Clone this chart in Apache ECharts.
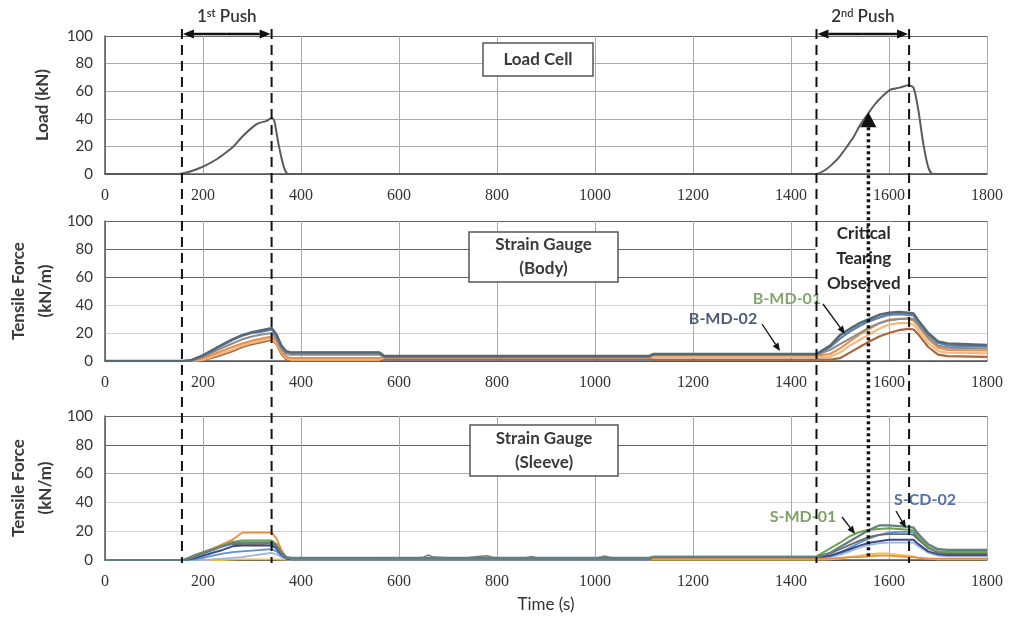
<!DOCTYPE html>
<html>
<head>
<meta charset="utf-8">
<script src="https://cdn.jsdelivr.net/npm/echarts@6/dist/echarts.min.js"></script>
<style>
  html, body { margin: 0; padding: 0; background: #fff; }
  #chart { width: 1012px; height: 618px; }
</style>
</head>
<body>
<div id="chart"></div>
<script>
// ---- data ----
const loadTime  = [0, 150, 160, 180, 200, 228, 245, 262, 280, 303, 315, 330, 340, 345, 350, 355, 360, 365, 370, 375,
                   1452, 1470, 1486, 1500, 1514, 1528, 1541, 1558, 1570, 1582, 1602, 1622, 1639, 1650, 1660, 1670, 1680, 1690, 1800];
const loadValue = [0, 0, 0.5, 2.5, 5.3, 10.7, 15, 19.9, 27, 34.5, 37, 38.5, 40.5, 39, 30, 20, 12, 5, 1, 0,
                   0, 3, 7.7, 13, 19.8, 27, 35.4, 44, 50, 54.7, 61, 62.6, 64.3, 62.6, 46, 22, 5, 0, 0];

// body gauges (kN/m)
const bodyTime = [0, 160, 175, 200, 230, 260, 280, 300, 320, 340, 350, 360, 370, 380, 560, 570, 1110, 1120,
                  1452, 1480, 1500, 1520, 1540, 1560, 1580, 1600, 1620, 1640, 1650, 1660, 1680, 1700, 1720, 1800];
const bodyB1 = [0, 0, 0.5, 4, 10, 15.5, 18.5, 20.5, 22, 23.5, 19, 11, 7, 6, 6, 3.5, 3.5, 5,
                5, 11, 18.5, 23, 27, 30, 33, 34.5, 35, 34.5, 34, 29, 20, 14, 12.5, 11.5];
const bodyB2 = [0, 0, 0.5, 4, 9.5, 15, 18, 20, 21, 22.5, 18, 10, 6.5, 6, 6, 3, 3, 5,
                5, 10, 16, 21, 25, 28.5, 31, 33, 33.5, 33, 32.5, 28, 19, 13, 11, 10.5];
const bodyB3 = [0, 0, 0, 3, 8, 12.5, 15.5, 17.5, 19, 20, 16, 9, 5, 4.5, 4.5, 3, 3, 4.5,
                4.5, 8, 12, 16, 20, 24, 27, 29, 30, 30.5, 30, 26, 17, 11, 9.5, 9];
const bodyB4 = [0, 0, 0, 2, 6, 10, 12.5, 14.5, 16, 17.5, 14, 7, 3, 2, 2, 3.5, 3.5, 4,
                4, 5, 9, 14, 19, 23, 27, 29.5, 30, 30, 29, 25, 16, 9.5, 8, 7.5];
const bodyB5 = [0, 0, 0, 1, 4.5, 8, 11, 13, 14.5, 16, 12.5, 6, 2, 1, 1, 2.5, 2.5, 3,
                3, 3, 6, 11, 15, 19, 23, 26, 27, 27, 26, 22, 13, 7, 6, 5.5];
const bodyB6 = [0, 0, 0, 0.5, 3.5, 7, 10, 12, 13.5, 15, 12, 5, 1, 0.5, 0.5, 1.5, 1.5, 1,
                1, 1, 2, 6, 10, 14, 17.5, 20, 22, 23, 22.5, 19, 10, 4.5, 3.5, 3];

// sleeve gauges (kN/m)
const sleeveTime = [0, 130, 160, 180, 200, 220, 240, 260, 280, 300, 320, 340, 350, 360, 370, 380, 1110, 1120,
                    1452, 1480, 1500, 1520, 1540, 1560, 1580, 1600, 1620, 1640, 1650, 1660, 1680, 1700, 1720, 1800];
const sleeveS1 = [0, 0, 0, 2, 4.5, 7, 9.5, 11.5, 12, 12, 12, 12, 10, 5, 2, 1.5, 1.5, 2,
                  2, 5, 9, 13, 17, 21, 24, 24, 23.5, 23, 22.5, 18, 11, 7.5, 7, 7];
const sleeveS2 = [0, 0, 0, 2.5, 5, 7.5, 10, 12.5, 13.5, 13.5, 13.5, 13.5, 11, 5, 1.5, 1.2, 1.2, 2.5,
                  2.5, 8, 12, 16.5, 19.5, 21, 21.5, 22, 21.5, 21, 20.5, 16, 9, 6, 5.5, 5.5];
const sleeveS3 = [0, 0, 0, 2, 4.5, 8, 11, 14, 19, 19, 19, 19, 15, 7, 2, 1, 1, 1,
                  1, 1, 1.5, 2, 2, 2.5, 3, 3, 2.5, 2, 2, 1.5, 1, 1, 1, 1];
const sleeveS4 = [0, 0, 0, 3, 5.5, 8, 10.5, 11, 11, 11, 11, 11.5, 9, 5, 1.5, 1, 1.5, 2,
                  2, 4.5, 7.5, 10.5, 13.5, 16, 17.5, 18, 18, 18, 17.5, 14, 8.5, 5, 4.5, 4.5];
const sleeveS5 = [0, 0, 0, 1, 3, 5, 7, 9.5, 10, 10, 10, 10, 8, 4, 1, 0.5, 0.5, 1.5,
                  1.5, 3, 5, 7.5, 10, 12, 13, 14, 14, 14, 14, 11, 6, 4, 3.5, 3.5];
const sleeveS6 = [0, 0, 0, 0.5, 1.5, 3, 4.5, 5.5, 6, 6.5, 7, 7.5, 6, 3, 1, 0.5, 0.5, 1.5,
                  1.5, 3, 5.5, 8.5, 12, 15, 17.5, 19, 19.5, 19.5, 19, 15, 8, 5.5, 5, 5];
const sleeveS7 = [0, 0, 0, 0, 0, 0.5, 1, 1.5, 2, 3, 4, 5, 4, 2, 0.5, 0.3, 0.3, 1,
                  1, 2, 3.5, 6, 8.5, 10.5, 11.5, 12, 12, 12, 12, 9.5, 5, 3, 2.5, 2.5];
const sleeveS8 = [0, 0, 0, 0, 0, 0, 0, 0.3, 0.5, 0.5, 0.5, 0.5, 0.5, 0.3, 0.2, 0.2, 0.2, 0.3,
                  0.3, 0.5, 1, 2, 3, 4, 4.5, 4.5, 3.5, 3, 2.5, 1.5, 1, 0.5, 0.5, 0.5];
const noiseTime  = [380, 600, 640, 650, 660, 670, 700, 740, 760, 780, 790, 800, 860, 870, 880, 1000, 1010, 1020, 1030, 1040, 1110];
const noiseValue = [1, 1.5, 1.5, 2, 3.5, 2, 1.5, 1.5, 2.5, 3, 2, 1.5, 1.5, 2.5, 1.5, 1.2, 2, 2.8, 2, 1.3, 1.3];

// events (s)
const pushBounds = [157, 340, 1452, 1641];
const tearTime = 1558;
const tearLoad = 44;

const sans = 'Lato, sans-serif';
const serif = 'Liberation Serif, Times New Roman, serif';

const chart = echarts.init(document.getElementById('chart'));

function zip(t, v) { return t.map((x, i) => [x, v[i]]); }

function xAxisFor(idx, extra) {
    return Object.assign({
        type: 'value', gridIndex: idx, min: 0, max: 1800, interval: 200,
        axisLine: { show: true, lineStyle: { color: '#555', width: 1.5 } },
        axisTick: { show: false },
        axisLabel: { color: '#333', fontFamily: serif, fontSize: 16, margin: 14, formatter: v => String(v) },
        splitLine: { show: true, lineStyle: { color: '#aaa', width: 1 } }
    }, extra || {});
}
function yAxisFor(idx, gridColors) {
    return {
        type: 'value', gridIndex: idx, min: 0, max: 100, interval: 20,
        axisLine: { show: true, lineStyle: { color: '#555', width: 1.5 } },
        axisTick: { show: false },
        axisLabel: { color: '#333', fontFamily: sans, fontSize: 15, margin: 12 },
        splitLine: { show: true, lineStyle: { color: gridColors, width: 1 } }
    };
}
function line(name, g, t, v, color, width, smooth) {
    return {
        name: name, type: 'line', xAxisIndex: g, yAxisIndex: g,
        data: zip(t, v), showSymbol: false, symbol: 'none', smooth: smooth || false,
        lineStyle: { color: color, width: width || 2 }, z: 3
    };
}

const option = {
    backgroundColor: '#fff',
    animation: false,
    grid: [
        { left: 105, top: 36, width: 882, height: 138 },
        { left: 105, top: 221, width: 882, height: 140 },
        { left: 105, top: 416, width: 882, height: 144 }
    ],
    xAxis: [
        xAxisFor(0),
        xAxisFor(1),
        xAxisFor(2, {
            name: 'Time (s)', nameLocation: 'middle', nameGap: 36,
            nameTextStyle: { color: '#333', fontFamily: sans, fontSize: 17 }
        })
    ],
    yAxis: [
        yAxisFor(0, ['#555', '#aaa', '#aaa', '#aaa', '#aaa', '#666']),
        yAxisFor(1, ['#555', '#d2d2d2', '#d2d2d2', '#666', '#666', '#666']),
        yAxisFor(2, ['#555', '#d2d2d2', '#d2d2d2', '#aaa', '#666', '#666'])
    ],
    series: [
        line('Load Cell', 0, loadTime, loadValue, '#5a5a5a', 2, 0.25),

        line('B6', 1, bodyTime, bodyB6, '#a8683f', 2.2),
        line('B5', 1, bodyTime, bodyB5, '#f3b982', 2.2),
        line('B4', 1, bodyTime, bodyB4, '#e8914f', 2.2),
        line('B3', 1, bodyTime, bodyB3, '#8c8c8c', 2),
        line('B-MD-02', 1, bodyTime, bodyB2, '#5b82b0', 2.2),
        line('B-MD-01', 1, bodyTime, bodyB1, '#566873', 2.5),

        line('noise', 2, noiseTime, noiseValue, '#8a7a6a', 1.5),
        line('S8', 2, sleeveTime, sleeveS8, '#f2c040', 1.8),
        line('S7', 2, sleeveTime, sleeveS7, '#9ab8e0', 1.8),
        line('S6', 2, sleeveTime, sleeveS6, '#5b8fd0', 1.8),
        line('S5', 2, sleeveTime, sleeveS5, '#3c4a8c', 2),
        line('S4', 2, sleeveTime, sleeveS4, '#6a6a6a', 1.8),
        line('S3', 2, sleeveTime, sleeveS3, '#ee8a3a', 1.8),
        line('S-MD-01', 2, sleeveTime, sleeveS2, '#70a050', 2),
        line('S-CD-02', 2, sleeveTime, sleeveS1, '#5f7f80', 2.2)
    ]
};
chart.setOption(option);

// ---- annotations positioned from the axes ----
const px = (g, x, y) => chart.convertToPixel({ gridIndex: g }, [x, y]);
const ink = '#111';

function arrowEls(x1, y1, x2, y2, w, head) {
    const a = Math.atan2(y2 - y1, x2 - x1);
    const hl = head || 9, hw = hl * 0.42;
    const bx = x2 - hl * Math.cos(a), by = y2 - hl * Math.sin(a);
    const ox = -Math.sin(a) * hw, oy = Math.cos(a) * hw;
    return [
        { type: 'line', z: 20, shape: { x1: x1, y1: y1, x2: bx, y2: by }, style: { stroke: ink, lineWidth: w } },
        { type: 'polygon', z: 20, shape: { points: [[x2, y2], [bx + ox, by + oy], [bx - ox, by - oy]] }, style: { fill: ink } }
    ];
}
function box(x, y, w, h, text, size) {
    return [
        { type: 'rect', z: 15, shape: { x: x, y: y, width: w, height: h },
          style: { fill: '#fff', stroke: '#555', lineWidth: 1.5 } },
        { type: 'text', z: 16, x: x + w / 2, y: y + h / 2,
          style: { text: text, fill: '#3a3a3a', font: 'bold ' + size + 'px ' + sans,
                   align: 'center', verticalAlign: 'middle', lineHeight: 24 } }
    ];
}
function label(x, y, text, color) {
    return { type: 'text', z: 18, x: x, y: y,
             style: { text: text, fill: color, font: 'bold 16px ' + sans, align: 'center', verticalAlign: 'middle' } };
}
function vname(x, y, text) {
    return { type: 'text', z: 18, x: x, y: y, rotation: Math.PI / 2,
             style: { text: text, fill: '#3a3a3a', font: 'bold 17px ' + sans, align: 'center', verticalAlign: 'middle' } };
}

const els = [];
const yTop = px(0, 0, 100)[1] - 7;
const yBot = px(2, 0, 0)[1] + 3;

// white patch behind the "Critical Tearing Observed" note
const xA = px(1, pushBounds[2], 0)[0], xB = px(1, pushBounds[3], 0)[0];
els.push({ type: 'rect', z: 12, shape: { x: xA - 1, y: px(1, 0, 100)[1] + 1, width: xB - xA + 2, height: 73 },
           style: { fill: '#fff' } });
els.push({ type: 'text', z: 13, x: (xA + xB) / 2 + 1, y: 259,
           style: { text: 'Critical\nTearing\nObserved', fill: '#2a2a2a', font: 'bold 17px ' + sans,
                    align: 'center', verticalAlign: 'middle', lineHeight: 25 } });

// push boundaries
pushBounds.forEach(t => {
    const x = px(0, t, 0)[0];
    els.push({ type: 'line', z: 19, shape: { x1: x, y1: yTop, x2: x, y2: yBot },
               style: { stroke: ink, lineWidth: 2, lineDash: [10, 6] } });
});

// push arrows and titles
const yArrow = px(0, 0, 100)[1] - 2;
[[0, 1, '1', 'st'], [2, 3, '2', 'nd']].forEach(p => {
    const x1 = px(0, pushBounds[p[0]], 0)[0], x2 = px(0, pushBounds[p[1]], 0)[0];
    const mid = (x1 + x2) / 2;
    els.push(...arrowEls(mid, yArrow, x1 + 1, yArrow, 2.5, 11));
    els.push(...arrowEls(mid, yArrow, x2 - 1, yArrow, 2.5, 11));
    els.push({ type: 'text', z: 18, x: mid, y: 17,
               style: { text: '{a|' + p[2] + '}{s|' + p[3] + '}{a| Push}', align: 'center', verticalAlign: 'middle',
                        rich: { a: { fontFamily: sans, fontSize: 17, fill: '#333', fontWeight: 600 },
                                s: { fontFamily: sans, fontSize: 11, fill: '#333', fontWeight: 600, padding: [0, 0, 8, 0] } } } });
});

// critical tearing marker
const tip = px(0, tearTime, tearLoad);
els.push({ type: 'polygon', z: 21, shape: { points: [[tip[0], tip[1] - 1], [tip[0] - 8, tip[1] + 14], [tip[0] + 8, tip[1] + 14]] },
           style: { fill: ink } });
els.push({ type: 'line', z: 21, shape: { x1: tip[0], y1: tip[1] + 14, x2: tip[0], y2: px(2, tearTime, 1)[1] },
           style: { stroke: ink, lineWidth: 3.5, lineDash: [3, 3] } });

// panel titles
els.push(...box(483, 43, 110, 33, 'Load Cell', 17));
els.push(...box(469, 232, 149, 50, 'Strain Gauge\n(Body)', 17));
els.push(...box(470, 425, 148, 51, 'Strain Gauge\n(Sleeve)', 17));

// gauge labels
els.push(label(787, 299, 'B-MD-01', '#86a56c'));
els.push(...arrowEls(823, 304, 845, 334, 1.3, 8));
els.push(label(723, 319, 'B-MD-02', '#4d5a78'));
els.push(...arrowEls(762, 324, 780, 351, 1.3, 8));
els.push(label(803, 517, 'S-MD-01', '#7f9f68'));
els.push(...arrowEls(842, 517, 855, 534, 1.3, 8));
els.push(label(925, 500, 'S-CD-02', '#5570a8'));
els.push(...arrowEls(896, 511, 906, 528, 1.3, 8));

// axis titles
els.push(vname(43, px(0, 0, 50)[1], 'Load (kN)'));
els.push(vname(19, px(1, 0, 50)[1], 'Tensile Force'));
els.push(vname(46, px(1, 0, 50)[1], '(kN/m)'));
els.push(vname(19, px(2, 0, 50)[1], 'Tensile Force'));
els.push(vname(46, px(2, 0, 50)[1], '(kN/m)'));

chart.setOption({ graphic: { elements: els } });
</script>
</body>
</html>
